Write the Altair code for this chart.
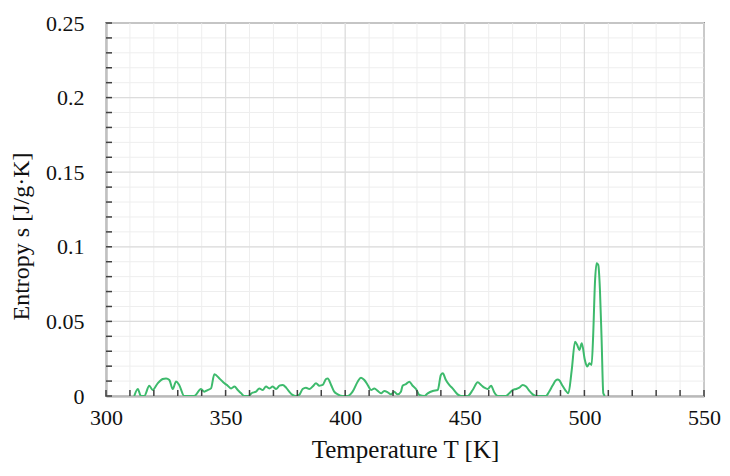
import altair as alt
import pandas as pd

# Temperature [K] and entropy [J/g·K]
temp = [311.8, 313.3, 314.6, 316.0, 318.1, 319.5, 321.6, 323.7, 325.1, 326.5, 327.9, 329.3, 330.6, 332.7,
        336.9, 339.7, 341.1, 342.5, 343.9, 345.3, 347.4, 349.5, 350.9, 352.3, 353.7, 355.1, 356.5, 357.8,
        359.5, 361.0, 362.7, 364.1, 365.5, 366.9, 368.3, 369.7, 371.1, 372.5, 373.9, 375.3, 376.6, 378.0,
        379.4, 380.8, 382.2, 383.6, 385.0, 386.4, 387.8, 389.2, 390.6, 392.0, 392.7, 394.1, 395.4, 396.9,
        399.0, 401.0, 403.1, 405.2, 406.6, 408.0, 409.4, 410.8, 412.2, 413.6, 415.0, 416.3, 417.8, 419.1,
        420.5, 421.9, 423.3, 424.0, 425.4, 426.8, 428.2, 429.6, 431.0, 433.1, 434.5, 436.6, 438.7, 440.0,
        440.8, 442.1, 443.5, 444.9, 447.0, 448.4, 451.2, 453.3, 455.4, 456.8, 458.2, 459.6, 461.0, 462.3,
        463.8, 467.2, 468.6, 470.0, 471.4, 472.8, 474.2, 475.6, 477.0, 478.4, 479.8, 483.9, 485.3, 486.7,
        488.1, 488.8, 489.5, 490.6, 492.0, 493.3, 494.7, 496.1, 497.0, 497.9, 498.9, 500.2, 501.2, 502.1,
        503.0, 503.7, 504.4, 505.1, 505.8, 506.5, 507.2, 507.9, 508.6]
entropy = [0.0, 0.0047, 0.0, 0.0, 0.0069, 0.004, 0.0085, 0.0114, 0.0118, 0.0107, 0.0047, 0.0098, 0.0074, 0.0,
           0.0, 0.0047, 0.0029, 0.004, 0.0051, 0.0145, 0.0118, 0.0085, 0.0069, 0.0051, 0.0063, 0.004, 0.0018, 0.0,
           0.0, 0.002, 0.0029, 0.0051, 0.004, 0.0063, 0.0051, 0.0063, 0.0047, 0.0069, 0.0074, 0.0056, 0.0029, 0.0007,
           0.0, 0.0007, 0.0047, 0.0056, 0.0047, 0.0063, 0.0085, 0.0069, 0.0074, 0.0114, 0.0118, 0.0074, 0.0029, 0.0011,
           0.0, 0.0, 0.0029, 0.0096, 0.0123, 0.0107, 0.0074, 0.004, 0.0051, 0.0034, 0.0018, 0.0034, 0.0025, 0.0011,
           0.0029, 0.0011, 0.0029, 0.0069, 0.008, 0.0096, 0.0069, 0.0047, 0.0007, 0.0, 0.0018, 0.0034, 0.004, 0.0141,
           0.0152, 0.0107, 0.0074, 0.0051, 0.0011, 0.0, 0.0, 0.004, 0.0092, 0.0074, 0.0056, 0.0047, 0.0069, 0.0025,
           0.0, 0.0, 0.0018, 0.004, 0.0047, 0.0056, 0.0074, 0.0063, 0.0034, 0.0011, 0.0, 0.0, 0.003, 0.007,
           0.0105, 0.011, 0.0105, 0.0075, 0.004, 0.0018, 0.0174, 0.0364, 0.0342, 0.0308, 0.0353, 0.0241, 0.0197, 0.0219,
           0.0208, 0.042, 0.0755, 0.0889, 0.0878, 0.071, 0.0375, 0.0018, 0.0]

x_major = [300, 350, 400, 450, 500, 550]
x_minor = [300, 310, 320, 330, 340, 350, 360, 370, 380, 390, 400, 410, 420, 430, 440, 450,
           460, 470, 480, 490, 500, 510, 520, 530, 540, 550]
y_major = [0, 0.05, 0.1, 0.15, 0.2, 0.25]
y_minor = [0, 0.01, 0.02, 0.03, 0.04, 0.05, 0.06, 0.07, 0.08, 0.09, 0.1, 0.11, 0.12, 0.13,
           0.14, 0.15, 0.16, 0.17, 0.18, 0.19, 0.2, 0.21, 0.22, 0.23, 0.24, 0.25]

W, H = 598, 373
FONT = "Liberation Serif"
xscale = alt.Scale(domain=[300, 550], nice=False, zero=False)
yscale = alt.Scale(domain=[0, 0.25], nice=False)

xaxis = alt.Axis(title="Temperature T [K]", values=x_major, format="d", ticks=False,
                 grid=False, domainColor="#404040", domainWidth=1.5, labelFlush=False,
                 labelFont=FONT, labelFontSize=22, labelColor="#111", labelPadding=11,
                 titleFont=FONT, titleFontSize=25, titleFontWeight="normal",
                 titleColor="#111", titlePadding=9)
yaxis = alt.Axis(title="Entropy s [J/g·K]", values=y_major, format="~g", ticks=False,
                 grid=False, domainColor="#404040", domainWidth=1.5, labelFlush=False,
                 labelFont=FONT, labelFontSize=22, labelColor="#111", labelPadding=22,
                 titleFont=FONT, titleFontSize=24, titleFontWeight="normal",
                 titleColor="#111", titlePadding=12, titleY=213)

df = pd.DataFrame({"T": temp, "s": entropy})
xminor_df = pd.DataFrame({"T": x_minor})
xmajor_df = pd.DataFrame({"T": x_major})
yminor_df = pd.DataFrame({"s": y_minor})
ymajor_df = pd.DataFrame({"s": y_major})

X = alt.X("T:Q", scale=xscale, axis=xaxis)
Y = alt.Y("s:Q", scale=yscale, axis=yaxis)

grid_minor_x = alt.Chart(xminor_df).mark_rule(color="#eeeeee", strokeWidth=1).encode(x=X)
grid_minor_y = alt.Chart(yminor_df).mark_rule(color="#eeeeee", strokeWidth=1).encode(y=Y)
grid_major_x = alt.Chart(xmajor_df).mark_rule(color="#dcdcdc", strokeWidth=1.2).encode(x=X)
grid_major_y = alt.Chart(ymajor_df).mark_rule(color="#dcdcdc", strokeWidth=1.2).encode(y=Y)

line = alt.Chart(df).mark_line(color="#3dba6c", strokeWidth=2, interpolate="monotone", clip=True).encode(
    x=X, y=Y)

tick_y = alt.Chart(yminor_df).mark_rule(color="#404040", strokeWidth=1.5).encode(
    y=Y, x=alt.value(0), x2=alt.value(6))
tick_x = alt.Chart(xminor_df).mark_rule(color="#404040", strokeWidth=1.5).encode(
    x=X, y=alt.value(H), y2=alt.value(H - 6))

chart = alt.layer(
    grid_minor_x, grid_minor_y, grid_major_x, grid_major_y, line, tick_y, tick_x
).properties(
    width=W, height=H,
    autosize=alt.AutoSizeParams(type="none"),
    padding={"left": 98, "top": 15, "right": 18, "bottom": 70},
    background="white",
).configure_view(stroke="#404040", strokeWidth=1.5)

chart.save("out.html", embed_options={"renderer": "svg", "actions": False})
